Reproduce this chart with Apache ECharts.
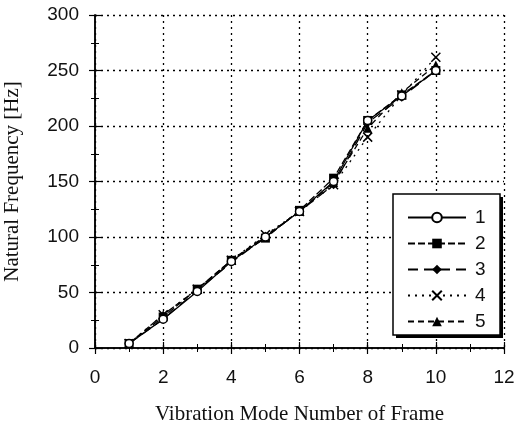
<!DOCTYPE html>
<html><head><meta charset="utf-8">
<script src="https://cdn.jsdelivr.net/npm/echarts@6/dist/echarts.min.js"></script>
<style>html,body{margin:0;padding:0;background:#fff}#c{width:526px;height:423px}</style>
</head><body><div id="c"></div>
<script>
const modes = [1,2,3,4,5,6,7,8,9,10];
const seriesNames = ['1','2','3','4','5'];
const s1 = [4, 26, 51, 78, 100, 123, 150, 205, 227, 250];
const s2 = [4, 28, 53, 79, 99, 124, 153, 205, 228, 250];
const s3 = [4, 26, 52, 77, 100, 123, 147, 203, 226, 250];
const s4 = [4, 30, 53, 79, 102, 123, 147, 190, 228, 262];
const s5 = [4, 30, 53, 79, 101, 123, 149, 198, 230, 255];
const xTicks = [0,2,4,6,8,10,12];
const yTicks = [0,50,100,150,200,250,300];

const data = [s1,s2,s3,s4,s5];
const symbols = ['circle','rect','diamond','path://M0,0L10,10M10,0L0,10','triangle'];
const lineTypes = ['solid',[7,3],[10,6],[2,5],[6,4]];
const sizes = [8,9,9,9,9];

const chart = echarts.init(document.getElementById('c'));
const axisCommon = {
  axisLine:{show:true,lineStyle:{color:'#000',width:1.5}},
  axisTick:{show:true,inside:true,length:6,lineStyle:{color:'#000',width:1.2}},
  minorTick:{show:true,splitNumber:2,length:4,lineStyle:{color:'#000',width:1}}
};
chart.setOption({
  animation:false,
  backgroundColor:'#fff',
  grid:{left:95,right:22,top:15,bottom:75,containLabel:false,outerBoundsMode:'none'},
  graphic:[
    {type:'rect',z:50,shape:{x:396,y:197,width:107,height:141},style:{fill:'#000'}},
    {type:'rect',z:51,shape:{x:393,y:194,width:107,height:141},style:{fill:'#fff',stroke:'#000',lineWidth:1.5}}
  ],
  xAxis:[
    Object.assign({type:'value',min:0,max:12,interval:2,position:'bottom',
      name:'Vibration Mode Number of Frame',nameLocation:'middle',nameGap:56,
      nameTextStyle:{fontFamily:'Liberation Serif',fontSize:21,color:'#111'},
      axisLabel:{fontFamily:'Liberation Sans',fontSize:19,color:'#111',margin:20},
      splitLine:{show:true,lineStyle:{color:'#000',type:[2,4],width:1.3}}
    },axisCommon),
    Object.assign({type:'value',min:0,max:12,interval:2,position:'top',
      axisLabel:{show:false},splitLine:{show:false}},axisCommon)
  ],
  yAxis:[
    Object.assign({type:'value',min:0,max:300,interval:50,position:'left',
      name:'Natural Frequency [Hz]',nameLocation:'middle',nameGap:72,
      nameTextStyle:{fontFamily:'Liberation Serif',fontSize:21,color:'#111'},
      axisLabel:{fontFamily:'Liberation Sans',fontSize:19,color:'#111',margin:16},
      splitLine:{show:true,lineStyle:{color:'#000',type:[2,4],width:1.3}}
    },axisCommon),
    Object.assign({type:'value',min:0,max:300,interval:50,position:'right',
      axisLabel:{show:false},splitLine:{show:false}},axisCommon)
  ],
  legend:{
    orient:'vertical',left:393,top:194,z:60,
    itemWidth:58,itemHeight:12,itemGap:7,
    padding:[14,15,8,14],
    textStyle:{fontFamily:'Liberation Sans',fontSize:19,color:'#111',lineHeight:18,padding:[0,0,0,4]},
    data:seriesNames
  },
  series:data.map((d,i)=>({
    name:seriesNames[i],type:'line',
    data:modes.map((m,j)=>[m,d[j]]),
    symbol:symbols[i],symbolSize:sizes[i],
    lineStyle:{color:'#000',width:1.3,type:lineTypes[i]},
    itemStyle:{color: i===0 ? '#fff' : (i===3 ? 'rgba(0,0,0,0)' : '#000'),borderColor:'#000',borderWidth: i===0||i===3 ? 1.5 : 0},
    z: 10-i
  }))
});
</script></body></html>
